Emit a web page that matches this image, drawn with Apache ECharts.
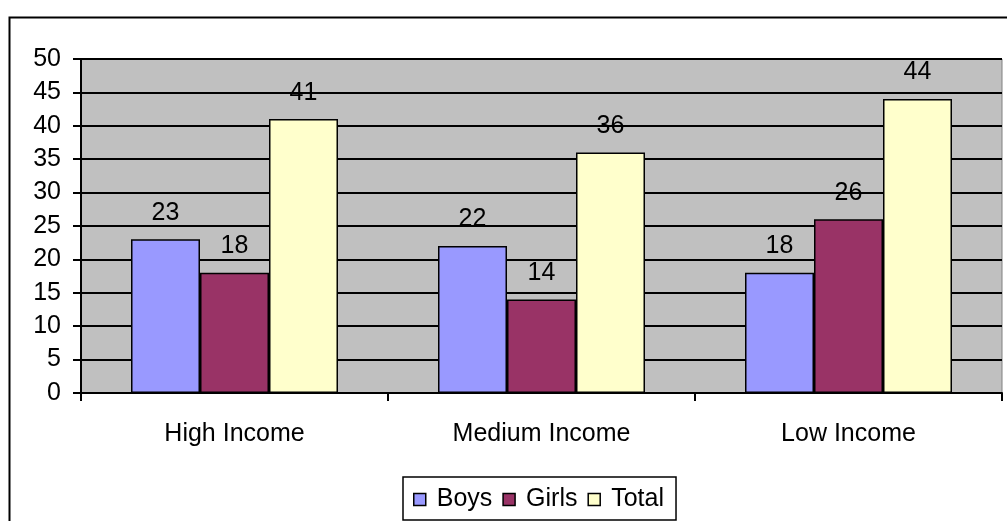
<!DOCTYPE html>
<html>
<head>
<meta charset="utf-8">
<script src="https://cdn.jsdelivr.net/npm/echarts@6/dist/echarts.min.js"></script>
<style>
html,body{margin:0;padding:0;background:#fff;}
#chart{width:1007px;height:521px;}
</style>
</head>
<body>
<div id="chart"></div>
<script>
var categories = ['High Income', 'Medium Income', 'Low Income'];
var boys = [23, 22, 18];
var girls = [18, 14, 26];
var total = [41, 36, 44];
var yTicks = [0, 5, 10, 15, 20, 25, 30, 35, 40, 45, 50];

var myChart = echarts.init(document.getElementById('chart'));
var font = 'Liberation Sans, Arial, sans-serif';

function barSeries(name, data, color) {
    return {
        name: name,
        type: 'bar',
        data: data,
        barWidth: 69,
        barGap: '0%',
        itemStyle: { color: color, borderColor: '#000', borderWidth: 1.5 },
        label: {
            show: true,
            position: 'top',
            distance: 14,
            color: '#000',
            fontFamily: font,
            fontSize: 25
        }
    };
}

var option = {
    animation: false,
    backgroundColor: '#fff',
    graphic: [{
        type: 'rect',
        shape: { x: 9.5, y: 17.5, width: 1010, height: 520 },
        style: { fill: 'none', stroke: '#000', lineWidth: 2 },
        z: 100
    }],
    grid: {
        left: 81, right: 5, top: 59, bottom: 128,
        show: true,
        backgroundColor: '#c0c0c0',
        borderColor: '#808080',
        borderWidth: 1
    },
    legend: {
        bottom: 1,
        left: 403,
        icon: 'rect',
        itemWidth: 12,
        itemHeight: 12,
        itemGap: 10,
        padding: [10, 12, 8, 10],
        borderColor: '#000',
        borderWidth: 1.5,
        textStyle: { color: '#000', fontFamily: font, fontSize: 25, padding: [0, 0, 0, 6] },
        itemStyle: { borderColor: '#000', borderWidth: 1.5 },
        data: ['Boys', 'Girls', 'Total']
    },
    xAxis: {
        type: 'category',
        data: categories,
        axisLine: { lineStyle: { color: '#000', width: 2 } },
        axisTick: { show: true, length: 8, lineStyle: { color: '#000', width: 2 } },
        axisLabel: { color: '#000', fontFamily: font, fontSize: 25, margin: 29 }
    },
    yAxis: {
        type: 'value',
        min: yTicks[0],
        max: yTicks[yTicks.length - 1],
        interval: 5,
        axisLine: { show: true, lineStyle: { color: '#000', width: 2 } },
        axisTick: { show: true, length: 8, lineStyle: { color: '#000', width: 2 } },
        axisLabel: { color: '#000', fontFamily: font, fontSize: 25, margin: 20 },
        splitLine: { show: true, lineStyle: { color: '#000', width: 2 } }
    },
    series: [
        barSeries('Boys', boys, '#9999ff'),
        barSeries('Girls', girls, '#993366'),
        barSeries('Total', total, '#ffffcc')
    ]
};
myChart.setOption(option);
</script>
</body>
</html>
